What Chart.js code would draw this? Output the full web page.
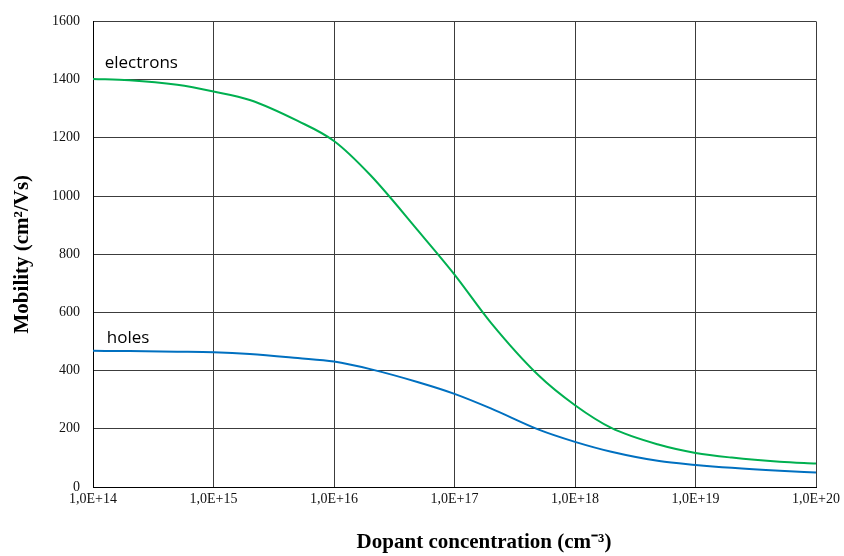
<!DOCTYPE html>
<html>
<head>
<meta charset="utf-8">
<script src="https://cdn.jsdelivr.net/npm/chart.js@4"></script>
<style>
  body { margin: 0; background: #fff; }
  #wrap { width: 844px; height: 556px; }
</style>
</head>
<body>
<div id="wrap"><canvas id="mobilityChart"></canvas></div>
<script>
// dopant concentration (cm-3)
var concentration = [1e14, 2e14, 5e14, 1e15, 2e15, 5e15, 1e16, 2e16, 5e16, 1e17, 2e17, 5e17, 1e18, 2e18, 5e18, 1e19, 2e19, 5e19, 1e20];
// mobility (cm2/Vs)
var electrons = [1402, 1398, 1382, 1359, 1330, 1258, 1189, 1072, 880, 730, 565, 383, 281, 203, 145, 117, 101, 87, 81];
var holes = [468, 467, 465, 463, 457, 443, 431, 405, 360, 320, 270, 197, 155, 121, 89, 76, 66, 56, 50];

var xTicks = [1e14, 1e15, 1e16, 1e17, 1e18, 1e19, 1e20];
var xTickLabels = ["1,0E+14", "1,0E+15", "1,0E+16", "1,0E+17", "1,0E+18", "1,0E+19", "1,0E+20"];
var yTicks = [0, 200, 400, 600, 800, 1000, 1200, 1400, 1600];

function pairs(xs, ys) {
    return xs.map(function (x, i) { return { x: x, y: ys[i] }; });
}

var serif = "'Liberation Serif', 'Times New Roman', serif";

// series names + x axis title drawn onto the canvas
var textPlugin = {
    id: 'textPlugin',
    afterDraw: function (chart) {
        var c = chart.ctx;
        var xs = chart.scales.x, ys = chart.scales.y;
        c.save();
        c.fillStyle = '#000';
        c.font = "17px 'Open Sans', 'Noto Sans', sans-serif";
        c.textAlign = 'left';
        c.textBaseline = 'alphabetic';
        c.fillText('electrons', xs.getPixelForValue(1.25e14), ys.getPixelForValue(1440));
        c.fillText('holes', xs.getPixelForValue(1.3e14), ys.getPixelForValue(495));

        c.font = "bold 21px " + serif;
        c.textAlign = 'center';
        c.textBaseline = 'middle';
        c.fillText('Dopant concentration (cm\u207B\u00B3)', 484, 543);
        c.restore();
    }
};

var ctx = document.getElementById("mobilityChart");
var myChart = new Chart(ctx, {
    type: 'line',
    data: {
        datasets: [{
            label: 'electrons',
            data: pairs(concentration, electrons),
            borderColor: '#00B050',
            borderWidth: 2,
            pointRadius: 0,
            cubicInterpolationMode: 'monotone',
            fill: false
        }, {
            label: 'holes',
            data: pairs(concentration, holes),
            borderColor: '#0070C0',
            borderWidth: 2,
            pointRadius: 0,
            cubicInterpolationMode: 'monotone',
            fill: false
        }]
    },
    options: {
        responsive: true,
        maintainAspectRatio: false,
        animation: false,
        layout: { padding: { top: 19, right: 27, left: 0, bottom: 0 } },
        plugins: {
            legend: { display: false },
            tooltip: { enabled: false }
        },
        scales: {
            x: {
                type: 'logarithmic',
                min: 1e14,
                max: 1e20,
                afterBuildTicks: function (scale) {
                    scale.ticks = xTicks.map(function (v) { return { value: v }; });
                },
                afterFit: function (scale) { scale.height = 69; },
                grid: { color: '#3c3c3c', lineWidth: 1, drawTicks: false },
                border: { color: '#000', width: 1 },
                ticks: {
                    padding: 4,
                    color: '#111',
                    font: { family: serif, size: 14 },
                    maxRotation: 0,
                    autoSkip: false,
                    callback: function (value) {
                        var i = xTicks.indexOf(value);
                        return i >= 0 ? xTickLabels[i] : '';
                    }
                }
            },
            y: {
                min: 0,
                max: 1600,
                afterBuildTicks: function (scale) {
                    scale.ticks = yTicks.map(function (v) { return { value: v }; });
                },
                afterFit: function (scale) { scale.width = 93; },
                grid: { color: '#3c3c3c', lineWidth: 1, drawTicks: false },
                border: { color: '#000', width: 1 },
                ticks: {
                    padding: 13,
                    color: '#111',
                    font: { family: serif, size: 14 },
                    callback: function (value) { return String(value); }
                },
                title: {
                    display: true,
                    text: 'Mobility (cm\u00B2/Vs)',
                    color: '#000',
                    font: { family: serif, size: 21, weight: 'bold' },
                    padding: { top: 10, bottom: 0 }
                }
            }
        }
    },
    plugins: [textPlugin]
});
</script>
</body>
</html>
